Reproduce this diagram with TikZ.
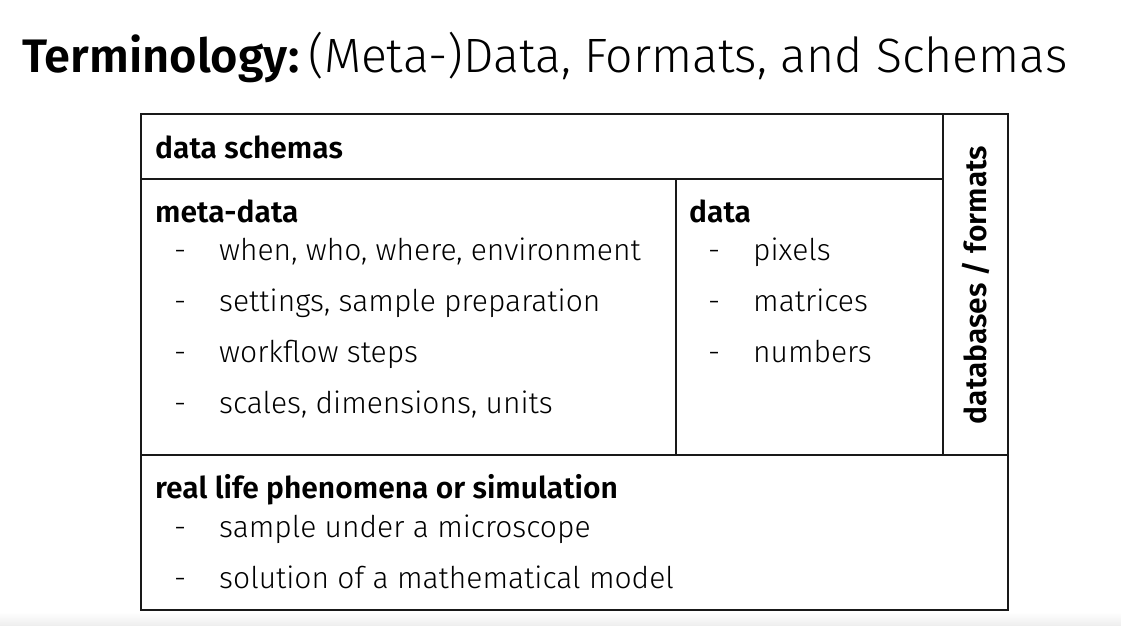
\documentclass[tikz,border=0pt]{standalone}
\usepackage{fontspec}
\setmainfont{Fira Sans}[UprightFont=* Light, BoldFont=* SemiBold]
\begin{document}
\begin{tikzpicture}[x=1pt,y=-1pt,
  frame/.style={line width=2.8pt,draw=black!90},
  head/.style={anchor=base west,inner sep=0pt,font=\fontsize{30}{34}\selectfont\bfseries},
  item/.style={anchor=base west,inner sep=0pt,font=\fontsize{30}{34}\selectfont},
  dashmark/.style={anchor=base west,inner sep=0pt,font=\fontsize{30}{34}\selectfont}
]
% canvas
\useasboundingbox (0,0) rectangle (1121,626);
\fill[white] (0,0) rectangle (1121,626);
\shade[top color=white,bottom color=black!7] (0,612) rectangle (1121,626);

% title
\node[anchor=base west,inner sep=0pt] (title) at (22,72)
  {\fontsize{47}{54}\selectfont\textbf{Terminology:}\hspace{9pt}\fontsize{48.2}{54}\selectfont(Meta-)Data, Formats, and Schemas};

% frame and dividers
\coordinate (tl) at (141,114);
\coordinate (br) at (1008,610);
\draw[frame] (tl) rectangle (br);
\draw[frame] (141,179) -- (943,179);
\draw[frame] (943,114) -- (943,455);
\draw[frame] (676,179) -- (676,455);
\draw[frame] (141,455) -- (1008,455);

% data schemas
\node[head] (schemas) at (155,158) {data schemas};

% meta-data
\node[head] (meta) at (155,222) {meta-data};
\foreach \t [count=\i] in {{when, who, where, environment},{settings, sample preparation},{workflow steps},{scales, dimensions, units}}{
  \node[dashmark] (md\i) at (174,{260+51*(\i-1)}) {-};
  \node[item] (m\i) at (219,{260+51*(\i-1)}) {\t};
}

% data
\node[head] (data) at (689,222) {data};
\foreach \t [count=\i] in {pixels,matrices,numbers}{
  \node[dashmark] (dd\i) at (708,{260+51*(\i-1)}) {-};
  \node[item] (d\i) at (753,{260+51*(\i-1)}) {\t};
}

% databases / formats
\node[head,anchor=base,rotate=90] (db) at (986,285) {databases / formats};

% real life
\node[head] (real) at (155,498) {real life phenomena or simulation};
\foreach \t [count=\i] in {{sample under a microscope},{solution of a mathematical model}}{
  \node[dashmark] (rd\i) at (174,{537+51*(\i-1)}) {-};
  \node[item] (r\i) at (219,{537+51*(\i-1)}) {\t};
}
\end{tikzpicture}
\end{document}
